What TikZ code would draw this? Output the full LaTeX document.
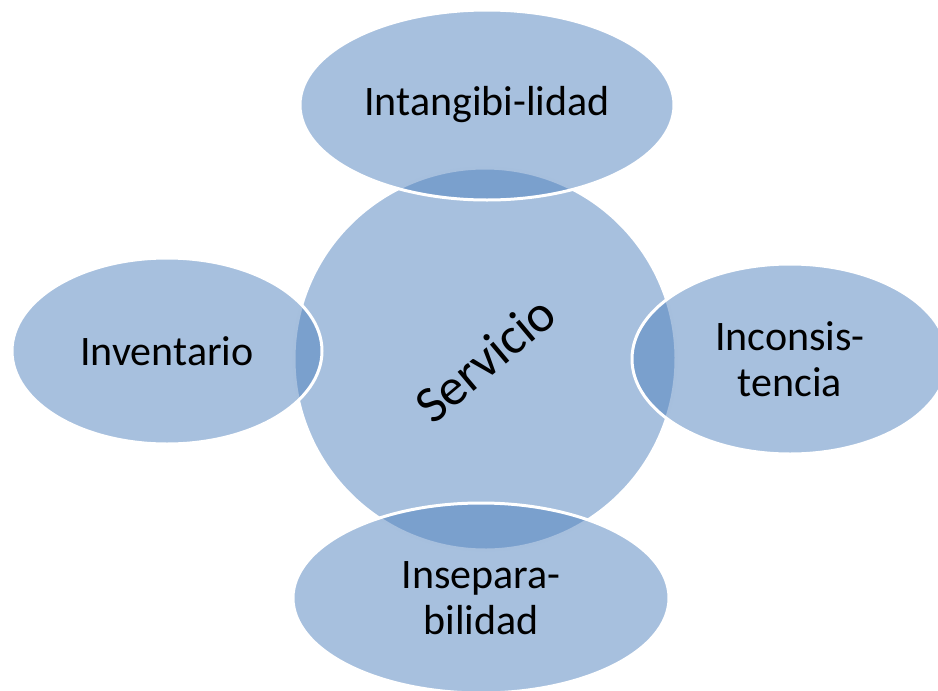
\documentclass[tikz,border=0pt]{standalone}
\usepackage{fontspec}
\setmainfont{Carlito}
\usepackage{xcolor}
\usepackage{tikz}
\usetikzlibrary{shapes.geometric}
\definecolor{accentblue}{HTML}{4F81BD}

\begin{document}
\begin{tikzpicture}[x=1pt,y=-1pt,
    bubble/.style={draw=white, line width=3pt, fill=accentblue, fill opacity=0.5,
        text opacity=1, draw opacity=1, inner sep=0pt, align=center,
        font=\fontsize{42}{46}\selectfont},
    petal/.style={bubble, ellipse}]
            \useasboundingbox (0,0) rectangle (938,691);
            \node[bubble, circle, minimum size=382pt, rotate=40, font=\fontsize{52}{60}\selectfont] at (485,359) (servicio) {Servicio};
            \node[petal, minimum width=374pt, minimum height=190pt] at (487,105) (intangibilidad) {Intangibi-lidad};
            \node[petal, minimum width=310pt, minimum height=186pt] at (167,351) (inventario) {Inventario};
            \node[petal, minimum width=316pt, minimum height=190pt] at (790,359) (inconsistencia) {Inconsis-\\tencia};
            \node[petal, minimum width=376pt, minimum height=190pt] at (481,598) (inseparabilidad) {Insepara-\\bilidad};
        \end{tikzpicture}
\end{document}
